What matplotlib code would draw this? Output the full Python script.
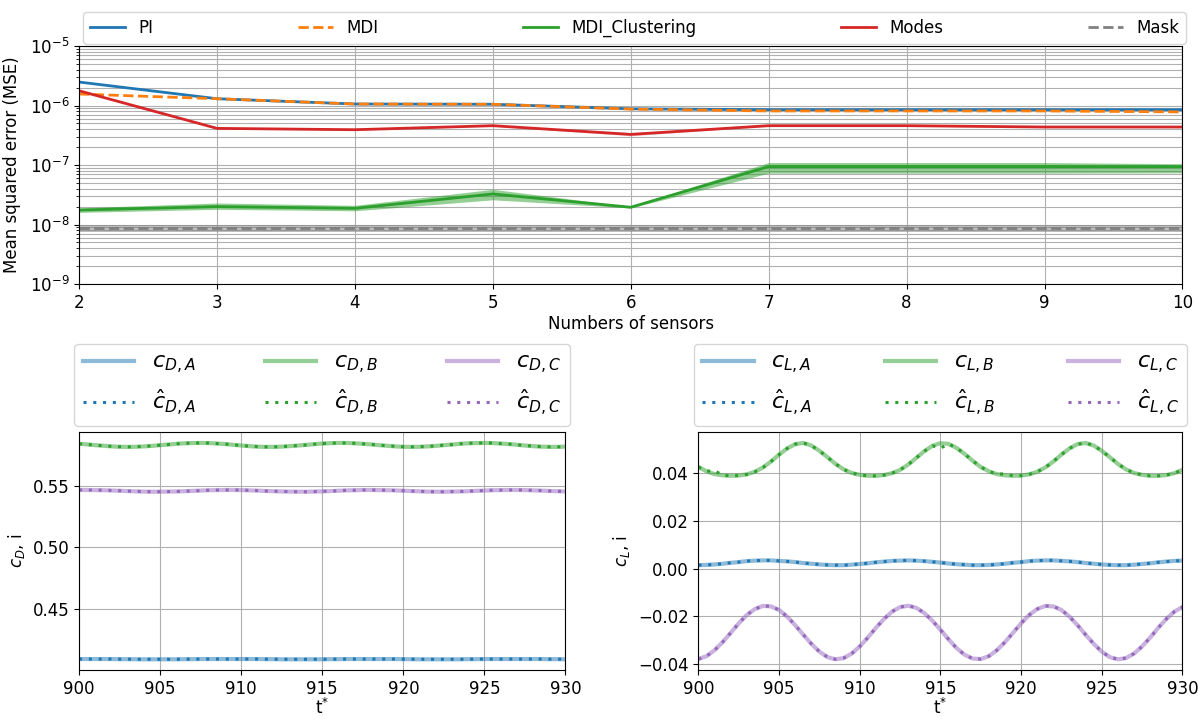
import matplotlib
matplotlib.use('Agg')
import matplotlib.pyplot as plt
import numpy as np

# ---------------- top panel data ----------------
sensors = [2, 3, 4, 5, 6, 7, 8, 9, 10]
pi_mse = [2.48e-6, 1.30e-6, 1.06e-6, 1.05e-6, 8.8e-7, 8.5e-7, 8.5e-7, 8.5e-7, 8.5e-7]
mdi_mse = [1.56e-6, 1.30e-6, 1.06e-6, 1.05e-6, 8.7e-7, 8.1e-7, 8.1e-7, 8.1e-7, 7.8e-7]
clust_mse = [1.75e-8, 2.0e-8, 1.87e-8, 3.26e-8, 1.95e-8, 9.4e-8, 9.4e-8, 9.4e-8, 9.4e-8]
clust_lo = [1.6e-8, 1.8e-8, 1.7e-8, 2.6e-8, 1.9e-8, 7.3e-8, 7.3e-8, 7.3e-8, 7.4e-8]
clust_hi = [1.9e-8, 2.3e-8, 2.1e-8, 3.9e-8, 2.0e-8, 1.1e-7, 1.1e-7, 1.1e-7, 1.05e-7]
modes_mse = [1.77e-6, 4.13e-7, 3.92e-7, 4.58e-7, 3.27e-7, 4.58e-7, 4.58e-7, 4.35e-7, 4.35e-7]
modes_lo = [1.72e-6, 4.05e-7, 3.85e-7, 4.5e-7, 3.1e-7, 4.5e-7, 4.5e-7, 4.28e-7, 4.28e-7]
modes_hi = [1.82e-6, 4.2e-7, 4.0e-7, 4.66e-7, 3.5e-7, 4.66e-7, 4.66e-7, 4.42e-7, 4.42e-7]
mask_mse = [8.6e-9] * 9
mask_lo = [7.6e-9] * 9
mask_hi = [9.7e-9] * 9

# ---------------- bottom panel data ----------------
t = np.linspace(900, 930, 61)

cD_A = [0.4096, 0.4096, 0.4096, 0.4096, 0.4096, 0.4095, 0.4095, 0.4094, 0.4094, 0.4094,
        0.4094, 0.4094, 0.4094, 0.4095, 0.4095, 0.4096, 0.4096, 0.4096, 0.4096, 0.4096,
        0.4096, 0.4096, 0.4096, 0.4095, 0.4095, 0.4094, 0.4094, 0.4094, 0.4094, 0.4094,
        0.4094, 0.4095, 0.4095, 0.4096, 0.4096, 0.4096, 0.4096, 0.4096, 0.4096, 0.4096,
        0.4095, 0.4095, 0.4094, 0.4094, 0.4094, 0.4094, 0.4094, 0.4094, 0.4095, 0.4095,
        0.4096, 0.4096, 0.4096, 0.4096, 0.4096, 0.4096, 0.4096, 0.4096, 0.4095, 0.4095, 0.4094]
cD_B = [0.5839, 0.5834, 0.5828, 0.5823, 0.5818, 0.5815, 0.5814, 0.5815, 0.5818, 0.5822,
        0.5828, 0.5833, 0.5839, 0.5843, 0.5845, 0.5846, 0.5845, 0.5841, 0.5837, 0.5831,
        0.5825, 0.5820, 0.5816, 0.5814, 0.5814, 0.5816, 0.5820, 0.5825, 0.5830, 0.5836,
        0.5841, 0.5844, 0.5846, 0.5846, 0.5843, 0.5839, 0.5834, 0.5828, 0.5823, 0.5818,
        0.5815, 0.5814, 0.5815, 0.5818, 0.5822, 0.5828, 0.5833, 0.5839, 0.5843, 0.5845,
        0.5846, 0.5845, 0.5841, 0.5837, 0.5831, 0.5825, 0.5820, 0.5816, 0.5814, 0.5814, 0.5816]
cD_C = [0.5465, 0.5465, 0.5464, 0.5463, 0.5461, 0.5459, 0.5456, 0.5454, 0.5452, 0.5451,
        0.5451, 0.5452, 0.5453, 0.5455, 0.5458, 0.5460, 0.5463, 0.5464, 0.5465, 0.5465,
        0.5464, 0.5462, 0.5460, 0.5457, 0.5455, 0.5453, 0.5452, 0.5451, 0.5451, 0.5452,
        0.5454, 0.5456, 0.5459, 0.5462, 0.5463, 0.5465, 0.5465, 0.5464, 0.5463, 0.5461,
        0.5459, 0.5456, 0.5454, 0.5452, 0.5451, 0.5451, 0.5452, 0.5453, 0.5455, 0.5458,
        0.5460, 0.5463, 0.5464, 0.5465, 0.5465, 0.5464, 0.5462, 0.5460, 0.5457, 0.5455, 0.5453]

cL_A = [0.0015, 0.0016, 0.0018, 0.0021, 0.0025, 0.0028, 0.0032, 0.0034, 0.0035, 0.0035,
        0.0033, 0.0031, 0.0028, 0.0024, 0.0021, 0.0018, 0.0016, 0.0015, 0.0015, 0.0017,
        0.0020, 0.0023, 0.0027, 0.0030, 0.0033, 0.0034, 0.0035, 0.0034, 0.0032, 0.0029,
        0.0026, 0.0022, 0.0019, 0.0017, 0.0015, 0.0015, 0.0016, 0.0018, 0.0021, 0.0025,
        0.0028, 0.0032, 0.0034, 0.0035, 0.0035, 0.0033, 0.0031, 0.0028, 0.0024, 0.0021,
        0.0018, 0.0016, 0.0015, 0.0015, 0.0017, 0.0020, 0.0023, 0.0027, 0.0030, 0.0033, 0.0034]
cL_B = [0.0427, 0.0409, 0.0397, 0.0392, 0.0390, 0.0391, 0.0396, 0.0407, 0.0425, 0.0450,
        0.0479, 0.0505, 0.0523, 0.0528, 0.0517, 0.0495, 0.0468, 0.0440, 0.0417, 0.0402,
        0.0394, 0.0390, 0.0390, 0.0393, 0.0401, 0.0415, 0.0437, 0.0465, 0.0493, 0.0516,
        0.0527, 0.0524, 0.0507, 0.0482, 0.0453, 0.0427, 0.0409, 0.0397, 0.0392, 0.0390,
        0.0391, 0.0396, 0.0407, 0.0425, 0.0450, 0.0479, 0.0505, 0.0523, 0.0528, 0.0517,
        0.0495, 0.0468, 0.0440, 0.0417, 0.0402, 0.0394, 0.0390, 0.0390, 0.0393, 0.0401, 0.0415]
cL_C = [-0.0379, -0.0367, -0.0342, -0.0308, -0.0269, -0.0229, -0.0194, -0.0169, -0.0156, -0.0158,
        -0.0173, -0.0201, -0.0237, -0.0277, -0.0315, -0.0348, -0.0371, -0.0380, -0.0375, -0.0356,
        -0.0326, -0.0289, -0.0248, -0.0211, -0.0180, -0.0161, -0.0155, -0.0164, -0.0186, -0.0218,
        -0.0256, -0.0296, -0.0333, -0.0361, -0.0377, -0.0379, -0.0367, -0.0342, -0.0308, -0.0269,
        -0.0229, -0.0194, -0.0169, -0.0156, -0.0158, -0.0173, -0.0201, -0.0237, -0.0277, -0.0315,
        -0.0348, -0.0371, -0.0380, -0.0375, -0.0356, -0.0326, -0.0289, -0.0248, -0.0211, -0.0180, -0.0161]

# predictions (nearly identical to ground truth; small deviations for B lift)
cD_A_pred = list(cD_A)
cD_B_pred = list(cD_B)
cD_C_pred = list(cD_C)
cL_A_pred = list(cL_A)
cL_C_pred = list(cL_C)
cL_B_pred = list(cL_B)
cL_B_pred[2] = 0.0412
cL_B_pred[30] = 0.0506
cL_B_pred[38] = 0.0398

plt.rcParams['font.family'] = ['DejaVu Sans']
plt.rcParams['font.size'] = 12

fig = plt.figure(figsize=(11.98, 7.19), dpi=100)

# ---------------- top axes ----------------
ax = fig.add_axes([0.066, 0.605, 0.921, 0.331])
ax.plot(sensors, pi_mse, color='tab:blue', lw=2, label='PI')
ax.plot(sensors, mdi_mse, color='tab:orange', lw=2, ls='--', label='MDI')
ax.fill_between(sensors, clust_lo, clust_hi, color='tab:green', alpha=0.5, lw=0)
ax.plot(sensors, clust_mse, color='tab:green', lw=2, label='MDI_Clustering')
ax.fill_between(sensors, modes_lo, modes_hi, color='tab:red', alpha=0.3, lw=0)
ax.plot(sensors, modes_mse, color='tab:red', lw=2, label='Modes')
ax.fill_between(sensors, mask_lo, mask_hi, color='gray', alpha=0.5, lw=0)
ax.plot(sensors, mask_mse, color='gray', lw=2, ls='--', label='Mask')
ax.set_yscale('log')
ax.set_ylim(1e-9, 1e-5)
ax.set_xlim(2, 10)
ax.set_xticks(sensors)
ax.grid(True, which='both', color='#b0b0b0', lw=0.8)
ax.set_axisbelow(True)
ax.set_xlabel('Numbers of sensors', labelpad=2)
ax.set_ylabel('Mean squared error (MSE)', labelpad=6)
ax.legend(loc='lower left', bbox_to_anchor=(0.004, 1.01, 0.999, 0.1), mode='expand',
          ncol=5, borderaxespad=0, fontsize=12, handlelength=2.1)

# ---------------- bottom axes ----------------
def bottom(axb, tr, pr, labels_t, labels_p, ylabel):
    cols = ['tab:blue', 'tab:green', 'tab:purple']
    handles = []
    for y_t, y_p, c, lt, lp in zip(tr, pr, cols, labels_t, labels_p):
        h1, = axb.plot(t, y_t, color=c, lw=3, alpha=0.5, label=lt)
        h2, = axb.plot(t, y_p, color=c, lw=2.2, ls=(0, (1, 2.2)), label=lp)
        handles += [h1, h2]
    axb.set_xlim(900, 930)
    axb.set_xticks([900, 905, 910, 915, 920, 925, 930])
    axb.grid(True, color='#b0b0b0', lw=0.8)
    axb.set_axisbelow(True)
    axb.set_xlabel(r't$^{*}$', labelpad=0)
    axb.set_ylabel(ylabel)
    axb.legend(handles=handles, loc='lower left', bbox_to_anchor=(-0.01, 1.025, 1.02, 0.3),
               mode='expand', ncol=3, borderaxespad=0, fontsize=16, handlelength=2.3)

ax1 = fig.add_axes([0.066, 0.068, 0.406, 0.331])
bottom(ax1, [cD_A, cD_B, cD_C], [cD_A_pred, cD_B_pred, cD_C_pred],
       [r'$c_{D,A}$', r'$c_{D,B}$', r'$c_{D,C}$'],
       [r'$\hat{c}_{D,A}$', r'$\hat{c}_{D,B}$', r'$\hat{c}_{D,C}$'], r'$c_D$, i')
ax1.set_yticks([0.45, 0.50, 0.55])

ax2 = fig.add_axes([0.583, 0.068, 0.404, 0.331])
bottom(ax2, [cL_A, cL_B, cL_C], [cL_A_pred, cL_B_pred, cL_C_pred],
       [r'$c_{L,A}$', r'$c_{L,B}$', r'$c_{L,C}$'],
       [r'$\hat{c}_{L,A}$', r'$\hat{c}_{L,B}$', r'$\hat{c}_{L,C}$'], r'$c_L$, i')

fig.savefig('out.png', dpi=100)
